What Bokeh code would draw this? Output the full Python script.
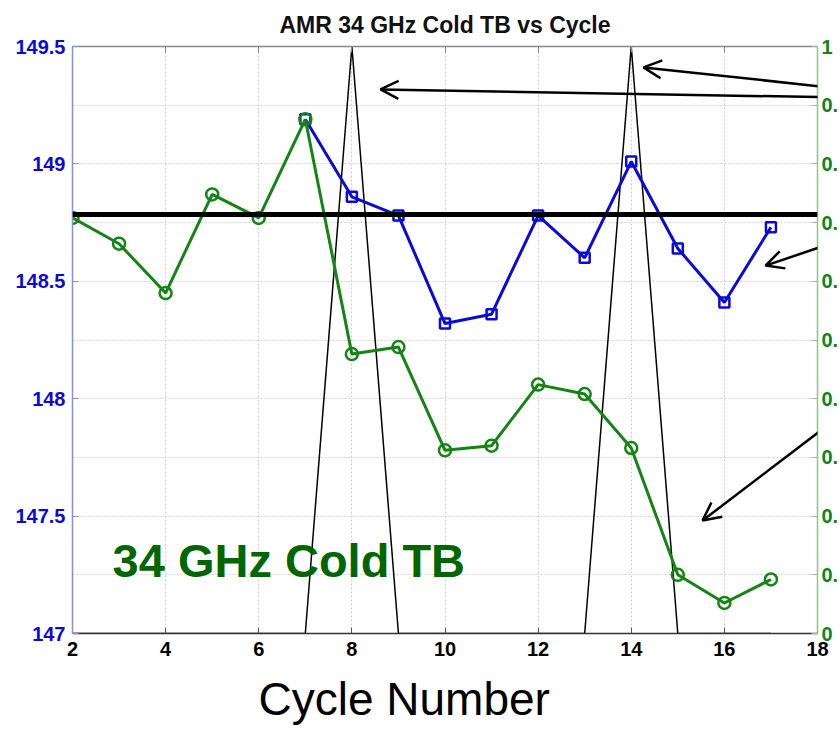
from bokeh.plotting import figure
from bokeh.models import (Range1d, LinearAxis, FixedTicker, CustomJSTickFormatter, Span,
                          Label, Title, Arrow, OpenHead, ColumnDataSource)
from bokeh.embed import file_html
from bokeh.resources import INLINE

# ---------------- data ----------------
cycles = list(range(2, 18))
green_tb = [148.77, 148.66, 148.45, 148.87, 148.77, 149.19, 148.19, 148.22,
            147.78, 147.80, 148.06, 148.02, 147.79, 147.25, 147.13, 147.23]
blue_cycles = list(range(7, 18))
blue_tb = [149.19, 148.86, 148.78, 148.32, 148.36, 148.78, 148.60, 149.01,
           148.64, 148.41, 148.73]
event_flag = [0, 0, 0, 0, 0, 0, 1, 0, 0, 0, 0, 0, 1, 0, 0, 0]
mean_tb = 148.784

x_ticks = [2, 4, 6, 8, 10, 12, 14, 16, 18]
left_ticks = [147, 147.5, 148, 148.5, 149, 149.5]
right_ticks = [0, 0.1, 0.2, 0.3, 0.4, 0.5, 0.6, 0.7, 0.8, 0.9, 1.0]
grid_ticks = [147.25, 147.5, 147.75, 148, 148.25, 148.5, 148.75, 149, 149.25]

title_text = "AMR 34 GHz Cold TB vs Cycle"
xlabel_text = "Cycle Number"
note_text = "34 GHz Cold TB"
note_x, note_y = 2.86, 147.31

arrow_x_start = [18.49, 18.49, 18.49, 18.49]
arrow_y_start = [149.283, 149.321, 148.674, 147.928]
arrow_x_end = [8.615, 14.264, 16.884, 15.531]
arrow_y_end = [149.317, 149.411, 148.567, 147.481]

FONT = "Liberation Sans"
BLUE = "#0a0ad8"
GREEN = "#148414"

p = figure(frame_width=745, frame_height=587, output_backend="svg", toolbar_location=None,
           x_range=Range1d(2, 18), y_range=Range1d(147, 149.5),
           min_border_left=72, min_border_right=23, min_border_top=46, min_border_bottom=100)
p.extra_y_ranges = {"right": Range1d(0, 1)}
p.outline_line_color = None
p.background_fill_color = "white"
p.border_fill_color = "white"

# grid
p.xgrid.ticker = FixedTicker(ticks=x_ticks)
p.ygrid.ticker = FixedTicker(ticks=grid_ticks)
for g in (p.xgrid[0], p.ygrid[0]):
    g.grid_line_color = "#cfcfcf"
    g.grid_line_dash = "2 2"
    g.grid_line_width = 1

# bottom axis
xa = p.xaxis[0]
xa.ticker = FixedTicker(ticks=x_ticks)
xa.major_label_text_font = FONT
xa.major_label_text_font_style = "bold"
xa.major_label_text_font_size = "20px"
xa.major_label_text_color = "black"
xa.axis_line_color = "#333333"
xa.axis_line_width = 1.5
xa.major_tick_in = 6
xa.major_tick_out = 0
xa.major_tick_line_color = "#555555"
xa.minor_tick_line_color = None
xa.major_label_standoff = 8

# left axis
ya = p.yaxis[0]
ya.ticker = FixedTicker(ticks=left_ticks)
ya.formatter = CustomJSTickFormatter(code="return tick.toString();")
ya.major_label_text_font = FONT
ya.major_label_text_font_style = "bold"
ya.major_label_text_font_size = "20px"
ya.major_label_text_color = BLUE
ya.axis_line_color = "#8c8ce0"
ya.axis_line_width = 1.5
ya.major_tick_in = 6
ya.major_tick_out = 0
ya.major_tick_line_color = "#8c8ce0"
ya.minor_tick_line_color = None
ya.major_label_standoff = 7

# right axis
ra = LinearAxis(y_range_name="right", ticker=FixedTicker(ticks=right_ticks),
                formatter=CustomJSTickFormatter(
                    code="if (tick < 0.05) {return '0';} if (tick > 0.95) {return '1';} return '0.';"))
ra.major_label_text_font = FONT
ra.major_label_text_font_style = "bold"
ra.major_label_text_font_size = "20px"
ra.major_label_text_color = GREEN
ra.axis_line_color = "#8cc48c"
ra.axis_line_width = 1.5
ra.major_tick_in = 6
ra.major_tick_out = 0
ra.major_tick_line_color = "#8cc48c"
ra.minor_tick_line_color = None
ra.major_label_standoff = 4
p.add_layout(ra, "right")

# top axis (ticks only, no labels drawn)
ta = LinearAxis(ticker=FixedTicker(ticks=x_ticks))
ta.major_label_text_font_size = "1px"
ta.major_label_text_color = None
ta.major_label_standoff = 0
ta.axis_line_color = "#888888"
ta.axis_line_width = 1.5
ta.major_tick_in = 6
ta.major_tick_out = 0
ta.major_tick_line_color = "#888888"
ta.minor_tick_line_color = None
p.add_layout(ta, "above")

# titles
p.add_layout(Title(text=title_text, align="center", text_font=FONT, text_font_style="bold",
                   text_font_size="23px", text_color="#111111", standoff=18), "above")
p.add_layout(Title(text=xlabel_text, align="left", offset=186, text_font=FONT,
                   text_font_style="normal", text_font_size="46px", text_color="black",
                   standoff=25), "below")

# event triangles (right axis)
p.line(cycles, event_flag, y_range_name="right", line_color="black", line_width=1.5)

# series
p.line(blue_cycles, blue_tb, line_color=BLUE, line_width=3)
p.scatter(blue_cycles, blue_tb, marker="square", size=10, fill_color=None,
          line_color=BLUE, line_width=2.5)
p.line(cycles, green_tb, line_color=GREEN, line_width=3)
p.scatter(cycles, green_tb, marker="circle", size=12, fill_color=None,
          line_color=GREEN, line_width=2.5)

# mean line
p.add_layout(Span(location=mean_tb, dimension="width", line_color="black", line_width=5))

# note text
p.add_layout(Label(x=note_x, y=note_y, text=note_text, text_font=FONT, text_font_style="bold",
                   text_font_size="47px", text_color="#006600", text_baseline="alphabetic",
                   text_align="left"))

# arrows
asrc = ColumnDataSource(dict(x0=arrow_x_start, y0=arrow_y_start, x1=arrow_x_end, y1=arrow_y_end))
p.add_layout(Arrow(source=asrc, x_start="x0", y_start="y0", x_end="x1", y_end="y1",
                   line_color="black", line_width=2.5,
                   end=OpenHead(size=18, line_width=2.5, line_color="black")))

open("out.html", "w").write(file_html(p, INLINE))
